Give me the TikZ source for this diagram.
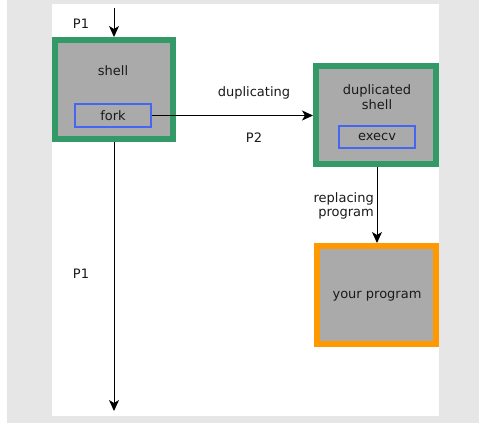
\documentclass[tikz,border=0pt]{standalone}
\usepackage{fontspec}
\setmainfont{DejaVu Sans}
\usetikzlibrary{arrows.meta}
\definecolor{pagegray}{HTML}{E6E6E6}
\definecolor{boxgreen}{HTML}{339966}
\definecolor{boxfill}{HTML}{AAAAAA}
\definecolor{boxorange}{HTML}{FF9900}
\definecolor{boxblue}{HTML}{4466F2}
\definecolor{txt}{HTML}{1A1A1A}
\tikzset{
  proc/.style={draw=boxgreen, line width=6pt, fill=boxfill},
  prog/.style={draw=boxorange, line width=6pt, fill=boxfill},
  call/.style={draw=boxblue, line width=2pt, fill=boxfill},
  lbl/.style={font=\fontsize{13}{14.5}\selectfont, text=txt, align=center, inner sep=0pt},
  flow/.style={draw=black, line width=1pt, -{Stealth[length=11pt,width=10pt,inset=3pt]}},
}
\begin{document}
\begin{tikzpicture}[x=1pt, y=-1pt]
  % page frame
  \useasboundingbox (0,0) rectangle (479,423);
  \fill[white] (0,0) rectangle (479,423);
  \fill[pagegray] (7,0) rectangle (479,423);
  \fill[white] (52,4) rectangle (439,416);

  % shell process
  \path[proc] (55,40) rectangle (173,139);
  \coordinate (shellTop) at (114,37);
  \coordinate (shellBot) at (114,142);
  \node[lbl] (shell) at (113,71) {shell};
  \path[call] (75,104) rectangle (151,127);
  \node[lbl] (fork) at (113,116) {fork};
  \coordinate (forkR) at (152,115.5);

  % duplicated shell
  \path[proc] (316,66) rectangle (436,164);
  \coordinate (dupL) at (313,115.5);
  \coordinate (dupBot) at (377,167);
  \node[lbl] (dup) at (377,97) {duplicated\\shell};
  \path[call] (339,126) rectangle (415,148);
  \node[lbl] (execv) at (377,137) {execv};

  % your program
  \path[prog] (317,246) rectangle (436,344);
  \coordinate (progTop) at (377,243);
  \node[lbl] (prog) at (377,296) {your program};

  % flow arrows
  \coordinate (startP1) at (114,8);
  \coordinate (endP1) at (114,411);
  \draw[flow] (startP1) -- (shellTop);
  \draw[flow] (shellBot) -- (endP1);
  \draw[flow] (forkR) -- (dupL);
  \draw[flow] (dupBot) -- (progTop);

  % labels
  \node[lbl] (p1a) at (81,24) {P1};
  \node[lbl] (p1b) at (81,274) {P1};
  \node[lbl] (dupl) at (254,93) {duplicating};
  \node[lbl] (p2) at (254,138) {P2};
  \node[lbl, align=right, anchor=east] (repl) at (374,206) {replacing\\program};
\end{tikzpicture}
\end{document}
